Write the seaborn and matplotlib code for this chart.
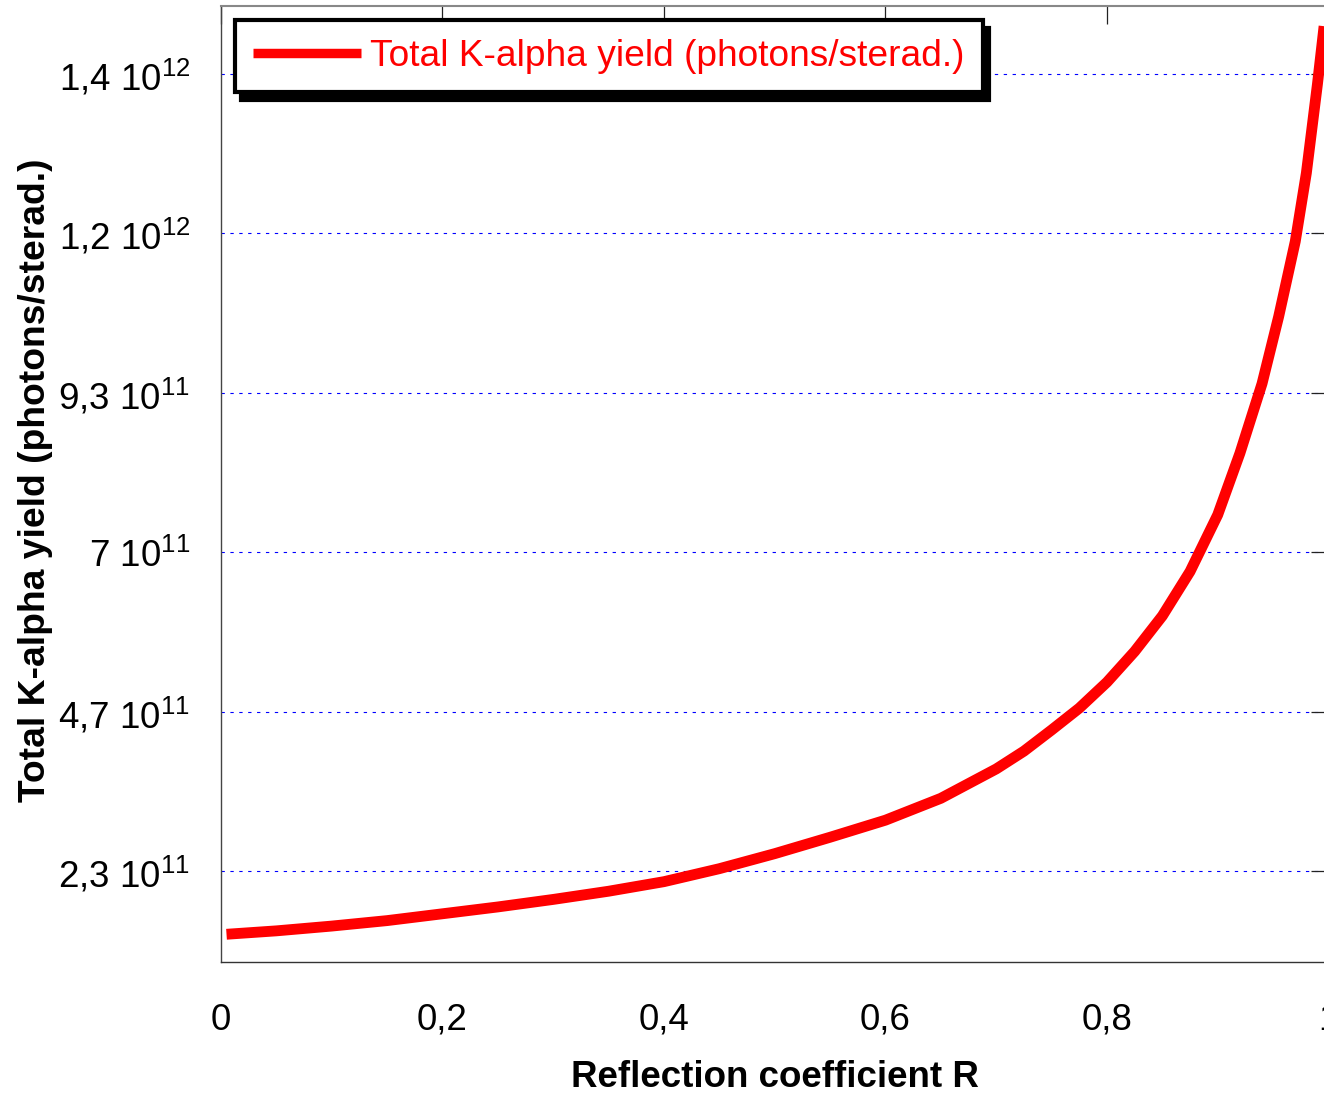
import matplotlib
matplotlib.use("Agg")
import matplotlib.pyplot as plt
import seaborn as sns
import pandas as pd

# ---- data ----
R_values = [0.005, 0.05, 0.10, 0.15, 0.20, 0.25, 0.30, 0.35, 0.40, 0.45, 0.50,
            0.55, 0.60, 0.65, 0.70, 0.725, 0.75, 0.775, 0.80, 0.825, 0.85,
            0.875, 0.90, 0.92, 0.94, 0.955, 0.97, 0.98, 0.99, 0.996]
yield_e11 = [1.41, 1.46, 1.53, 1.61, 1.71, 1.81, 1.92, 2.04, 2.18, 2.37, 2.59,
             2.83, 3.08, 3.40, 3.83, 4.09, 4.40, 4.72, 5.10, 5.55, 6.07,
             6.72, 7.55, 8.45, 9.47, 10.45, 11.55, 12.55, 13.85, 14.70]
series_label = "Total K-alpha yield (photons/sterad.)"
x_label = "Reflection coefficient R"
y_label = "Total K-alpha yield (photons/sterad.)"
x_ticks = [0, 0.2, 0.4, 0.6, 0.8, 1.0]
x_tick_labels = ["0", "0,2", "0,4", "0,6", "0,8", "1"]
y_ticks = [2.3333e11, 4.6667e11, 7.0e11, 9.3333e11, 1.16667e12, 1.4e12]
y_tick_mantissa = ["2,3", "4,7", "7", "9,3", "1,2", "1,4"]
y_tick_exponent = ["11", "11", "11", "11", "12", "12"]

df = pd.DataFrame({"R": R_values, "Y": [v * 1e11 for v in yield_e11]})

sns.set_theme(style="white")
plt.rcParams["font.family"] = ["Liberation Sans", "DejaVu Sans"]

fig = plt.figure(figsize=(13.24, 10.96), dpi=100)
ax = fig.add_axes([0.1669, 0.1220, 0.8365, 0.8728])

sns.lineplot(data=df, x="R", y="Y", color="#ff0000", lw=7.8, label=series_label,
             ax=ax, solid_capstyle="butt", solid_joinstyle="round", zorder=3)

ax.set_xlim(0, 1.0)
ax.set_ylim(1.0e11, 1.5e12)
ax.set_xticks(x_ticks)
ax.set_xticklabels(x_tick_labels)
ax.set_yticks(y_ticks)
ax.set_yticklabels([f"{m} 10$^{{\\mathregular{{{e}}}}}$"
                    for m, e in zip(y_tick_mantissa, y_tick_exponent)])

ax.grid(False)
ax.yaxis.grid(True, color="#0000ff", lw=0.8, linestyle=(0, (3, 5)))
ax.set_axisbelow(True)

ax.tick_params(axis="both", direction="in", length=13, width=0.9, color="#222222",
               top=True, right=True, labelsize=26.5, labelcolor="black")
ax.tick_params(axis="x", pad=29)
ax.tick_params(axis="y", pad=22)

for side, col, w in [("left", "#444444", 1.0), ("bottom", "#333333", 1.0),
                     ("top", "#888888", 1.5), ("right", "#444444", 1.0)]:
    ax.spines[side].set_visible(True)
    ax.spines[side].set_color(col)
    ax.spines[side].set_linewidth(w)

ax.set_xlabel(x_label, fontsize=26.5, fontweight="bold", color="black")
ax.set_ylabel(y_label, fontsize=26.8, fontweight="bold", color="black")
ax.xaxis.set_label_coords(0.5, -0.102)
ax.yaxis.set_label_coords(-0.152, 0.504)

leg = ax.legend(loc="upper left", bbox_to_anchor=(0.0126, 0.985), borderaxespad=0,
                fontsize=26.7, frameon=True, fancybox=False, handlelength=2.9,
                handletextpad=0.24, borderpad=0.5,
                shadow={"ox": 4.5, "oy": -6, "color": "black", "alpha": 1})
leg.get_frame().set_edgecolor("black")
leg.get_frame().set_linewidth(3)
leg.get_frame().set_facecolor("white")
leg.get_frame().set_alpha(1)
for t in leg.get_texts():
    t.set_color("#ff0000")
for l in leg.get_lines():
    l.set_linewidth(6.8)

fig.savefig("out.png", dpi=100)
